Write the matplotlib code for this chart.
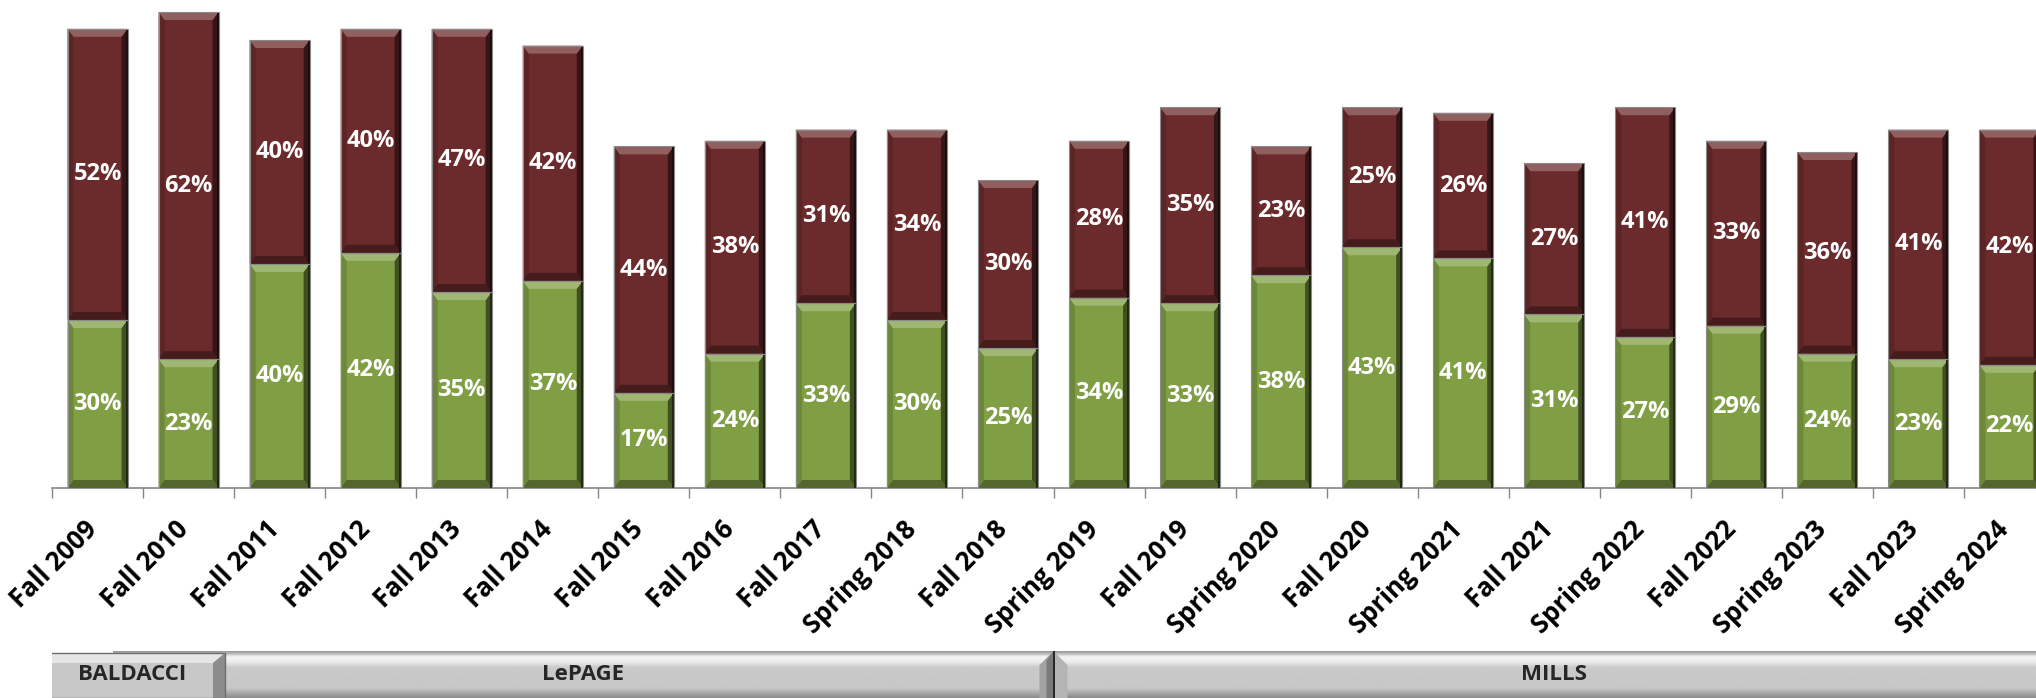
import numpy as np
import matplotlib
matplotlib.use("Agg")
import matplotlib.pyplot as plt
from matplotlib.patches import Polygon, Rectangle
from matplotlib.colors import to_rgb
from matplotlib.transforms import ScaledTranslation

# ===================== DATA =====================
terms = ["Fall 2009", "Fall 2010", "Fall 2011", "Fall 2012", "Fall 2013", "Fall 2014",
         "Fall 2015", "Fall 2016", "Fall 2017", "Spring 2018", "Fall 2018", "Spring 2019",
         "Fall 2019", "Spring 2020", "Fall 2020", "Spring 2021", "Fall 2021", "Spring 2022",
         "Fall 2022", "Spring 2023", "Fall 2023", "Spring 2024"]
green_pct = [30, 23, 40, 42, 35, 37, 17, 24, 33, 30, 25, 34, 33, 38, 43, 41, 31, 27, 29, 24, 23, 22]
red_pct = [52, 62, 40, 40, 47, 42, 44, 38, 31, 34, 30, 28, 35, 23, 25, 26, 27, 41, 33, 36, 41, 42]
governors = ["BALDACCI", "LePAGE", "MILLS"]
gov_terms = [2, 9, 11]

# ===================== STYLE =====================
W, H, DPI = 2036, 698, 100
GREEN = "#809f45"
RED = "#6b2a2b"
FONT = ["Open Sans", "DejaVu Sans"]
plt.rcParams["font.family"] = FONT

fig = plt.figure(figsize=(W / DPI, H / DPI), dpi=DPI)
ax_left, ax_bottom, ax_w, ax_h = 52 / W, 210 / H, 2003 / W, 488 / H
ax = fig.add_axes([ax_left, ax_bottom, ax_w, ax_h])

n = len(terms)
x = np.arange(n)
ymax = 488 / 5.6
ax.set_xlim(-0.5, n - 0.5)
ax.set_ylim(0, ymax)

px_x = ax_w * W / n        # pixels per category
px_y = ax_h * H / ymax     # pixels per percent


def shade(color, f):
    """f > 0 lighter, f < 0 darker"""
    c = np.array(to_rgb(color))
    if f >= 0:
        return tuple(c + (1 - c) * f)
    return tuple(c * (1 + f))


def bevel(ax, p, color):
    x0, y0, w, h = p.get_x(), p.get_y(), p.get_width(), p.get_height()
    bx = 6 / px_x
    by = min(8 / px_y, h / 2)
    x1, y1 = x0 + w, y0 + h
    top = [(x0, y1), (x1, y1), (x1 - bx, y1 - by), (x0 + bx, y1 - by)]
    bot = [(x0, y0), (x1, y0), (x1 - bx, y0 + by), (x0 + bx, y0 + by)]
    left = [(x0, y0), (x0, y1), (x0 + bx, y1 - by), (x0 + bx, y0 + by)]
    right = [(x1, y0), (x1, y1), (x1 - bx, y1 - by), (x1 - bx, y0 + by)]
    ax.add_patch(Polygon(left, closed=True, fc=shade(color, -0.15), ec="none", zorder=3))
    ax.add_patch(Polygon(right, closed=True, fc=shade(color, -0.5), ec="none", zorder=3))
    ax.add_patch(Polygon(bot, closed=True, fc=shade(color, -0.35), ec="none", zorder=3))
    ax.add_patch(Polygon(top, closed=True, fc=shade(color, 0.25), ec="none", zorder=3))
    # dark thin strip on the far right edge
    ax.add_patch(Rectangle((x1 - 2 / px_x, y0), 2 / px_x, h, fc=shade(color, -0.75), ec="none", zorder=3))
    ax.add_patch(Rectangle((x0, y0), w, h, fill=False, ec="#8a8a8a", lw=0.8, zorder=4))


bar_w = 60 / px_x
g_bars = ax.bar(x, green_pct, width=bar_w, color=GREEN, zorder=2)
r_bars = ax.bar(x, red_pct, width=bar_w, bottom=green_pct, color=RED, zorder=2)
for p in g_bars:
    bevel(ax, p, GREEN)
for p in r_bars:
    bevel(ax, p, RED)

# percent labels
for xi, g, r in zip(x, green_pct, red_pct):
    ax.text(xi, g / 2, f"{g}%", ha="center", va="center", color="white",
            fontsize=17, fontweight="bold", zorder=5)
    ax.text(xi, g + r / 2, f"{r}%", ha="center", va="center", color="white",
            fontsize=17, fontweight="bold", zorder=5)

# axes
for s in ["top", "left", "right"]:
    ax.spines[s].set_visible(False)
ax.spines["bottom"].set_color("#868686")
ax.spines["bottom"].set_linewidth(1.2)
ax.set_yticks([])
ax.set_xticks(np.arange(-0.5, n, 1))
ax.set_xticklabels([])
ax.tick_params(axis="x", which="major", length=7.2, width=1, color="#868686", direction="out")
ax.set_xticks(x, minor=True)
ax.set_xticklabels(terms, minor=True, rotation=45, ha="right", va="top",
                   fontsize=18.5, fontweight="bold", color="black")
ax.tick_params(axis="x", which="minor", length=0, pad=20)
shift = ScaledTranslation(5 / DPI, 0, fig.dpi_scale_trans)
for lbl in ax.get_xticklabels(minor=True):
    lbl.set_transform(lbl.get_transform() + shift)

# ===================== GOVERNOR BAND =====================
band_h = 47 / H
ax2 = fig.add_axes([ax_left, 0, ax_w, band_h])
ax2.set_xlim(-0.5, n - 0.5)
ax2.set_ylim(0, 1)
ax2.axis("off")

stops_pos = [0, 0.04, 0.12, 0.22, 0.35, 0.8, 1.0]
stops_val = [0.60, 0.70, 0.96, 0.93, 0.79, 0.78, 0.55]
prof = np.interp(np.linspace(0, 1, 60), stops_pos, stops_val)
grad = np.repeat(prof[:, None], 2, axis=1)

bounds = np.concatenate([[-0.5], -0.5 + np.cumsum(gov_terms)])

# LePAGE and MILLS bands (behind the BALDACCI box)
band_spans = [(bounds[0] + 0.67, bounds[2]), (bounds[2], bounds[3])]
for (a, b), name in zip(band_spans, governors[1:]):
    ax2.imshow(grad, cmap="gray", vmin=0, vmax=1, aspect="auto",
               extent=(a, b, 0, 1), zorder=1, interpolation="bilinear")
    ax2.text((a + b) / 2, 0.5, name, ha="center", va="center", fontsize=16,
             fontweight="bold", color="#262626", zorder=6)

# junction between LePAGE and MILLS
jx = bounds[2]
dx = 14 / px_x
ax2.add_patch(Polygon([(jx - dx, 0), (jx - dx, 0.7), (jx, 1), (jx, 0)],
                      closed=True, fc="#a2a2a2", ec="none", zorder=2))
ax2.add_patch(Polygon([(jx + dx, 0), (jx + dx, 0.7), (jx, 1), (jx, 0)],
                      closed=True, fc="#b4b4b4", ec="none", zorder=2))
ax2.add_patch(Polygon([(jx - dx / 2, 0), (jx - dx / 2, 0.8), (jx, 1), (jx, 0)],
                      closed=True, fc="#7a7a7a", ec="none", zorder=2))
ax2.plot([jx, jx], [0, 1], color="#1a1a1a", lw=1.3, zorder=3)

# BALDACCI box
a, b = bounds[0] - 0.14, bounds[1] - 0.1
top = 45 / 47
ax2.add_patch(Rectangle((a, 0), b - a, top, fc="#c8c8c8", ec="none", zorder=3))
bxx = 12 / px_x
byy = 10 / 47
ax2.add_patch(Polygon([(a, top), (b, top), (b - bxx, top - byy), (a + bxx, top - byy)],
                      closed=True, fc="#e6e6e6", ec="none", zorder=4))
ax2.add_patch(Polygon([(a, 0), (a, top), (a + bxx, top - byy), (a + bxx, 0)],
                      closed=True, fc="#b6b6b6", ec="none", zorder=4))
ax2.add_patch(Polygon([(b, 0), (b, top), (b - bxx, top - byy), (b - bxx, 0)],
                      closed=True, fc="#8c8c8c", ec="none", zorder=4))
ax2.add_patch(Rectangle((a, 0), b - a, top, fill=False, ec="#6e6e6e", lw=1.0, zorder=5))
ax2.text((a + b) / 2, 0.5, governors[0], ha="center", va="center", fontsize=16,
         fontweight="bold", color="#262626", zorder=6)

fig.savefig("out.png", dpi=DPI)
